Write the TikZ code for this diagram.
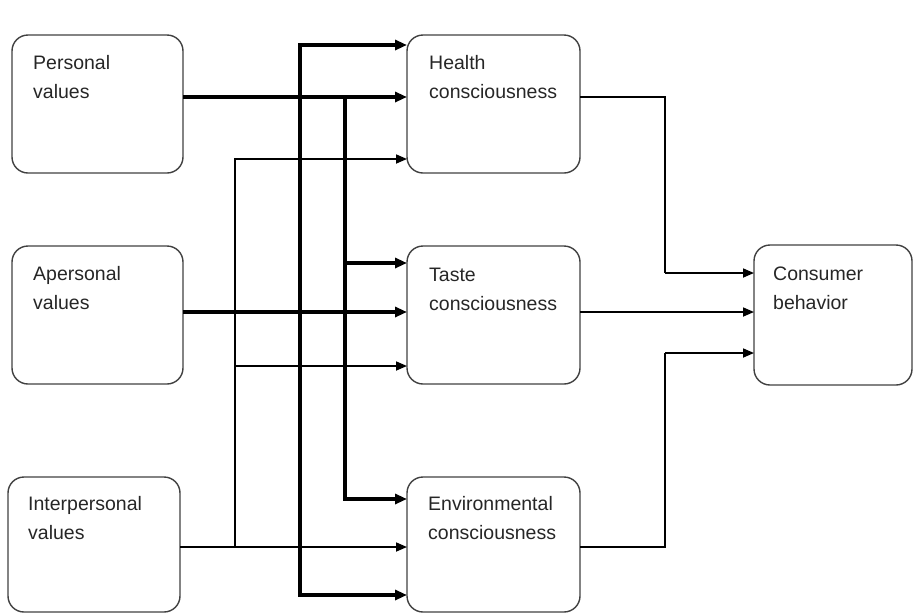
\documentclass[tikz,border=0pt]{standalone}
\usepackage{fontspec}
\setmainfont{Liberation Sans}
\usetikzlibrary{arrows.meta}
\begin{document}
\begin{tikzpicture}[x=1pt,y=-1pt,
  box/.style={draw=black!75, line width=1.4pt, rounded corners=16pt, anchor=north west, inner sep=0pt, outer sep=0pt},
  lbl/.style={anchor=north west, inner sep=0pt, align=left, text=black!85, font=\fontsize{19.5}{29}\selectfont},
  thickarr/.style={line width=3.2pt, -{Triangle[length=12pt,width=10pt]}},
  thinarr/.style={line width=1.7pt, -{Triangle[length=11pt,width=9pt]}},
  thinline/.style={line width=1.7pt}]
\useasboundingbox (0,0) rectangle (913,614);
% boxes
\node[box, minimum width=171pt, minimum height=138pt] (pv) at (12,35) {};
\node[box, minimum width=171pt, minimum height=138pt] (ap) at (12,246) {};
\node[box, minimum width=172pt, minimum height=135pt] (ip) at (8,477) {};
\node[box, minimum width=173pt, minimum height=138pt] (hc) at (407,35) {};
\node[box, minimum width=173pt, minimum height=138pt] (tc) at (407,246) {};
\node[box, minimum width=173pt, minimum height=135pt] (ec) at (407,477) {};
\node[box, minimum width=158pt, minimum height=140pt] (cb) at (754,245) {};
% labels
\node[lbl] (pvt) at ([xshift=21pt,yshift=-20pt]pv.north west) {Personal\\values};
\node[lbl] (apt) at ([xshift=21pt,yshift=-20pt]ap.north west) {Apersonal\\values};
\node[lbl] (ipt) at ([xshift=20pt,yshift=-19pt]ip.north west) {Interpersonal\\values};
\node[lbl] (hct) at ([xshift=22pt,yshift=-20pt]hc.north west) {Health\\consciousness};
\node[lbl] (tct) at ([xshift=22pt,yshift=-22pt]tc.north west) {Taste\\consciousness};
\node[lbl] (ect) at ([xshift=21pt,yshift=-19pt]ec.north west) {Environmental\\consciousness};
\node[lbl] (cbt) at ([xshift=19pt,yshift=-22pt]cb.north west) {Consumer\\behavior};
% junctions
\coordinate (ja) at (300,312);
\coordinate (jb) at (345,97);
\coordinate (jc) at (235,547);
\coordinate (jd) at (665,273);
\coordinate (je) at (665,353);
% personal values
\draw[thickarr] ([yshift=7pt]pv.east) -- ([yshift=7pt]pv.east -| hc.west);
\draw[thickarr] (jb) |- ([yshift=-22pt]ec.north west);
\draw[thickarr] (jb) |- ([yshift=-17pt]tc.north west);
% apersonal values
\draw[thickarr] ([yshift=3pt]ap.east) -- ([yshift=3pt]ap.east -| tc.west);
\draw[thickarr] (ja) |- ([yshift=-10pt]hc.north west);
\draw[thickarr] (ja) |- ([yshift=17pt]ec.south west);
% interpersonal values
\draw[thinarr] ([yshift=-2.5pt]ip.east) -- ([yshift=-2.5pt]ip.east -| ec.west);
\draw[thinarr] (jc) |- ([yshift=14pt]hc.south west);
\draw[thinarr] (jc) |- ([yshift=18pt]tc.south west);
% to consumer behavior
\draw[thinline] ([yshift=7pt]hc.east) -| (jd);
\draw[thinarr] (jd) -- (jd -| cb.west);
\draw[thinarr] ([yshift=3pt]tc.east) -- ([yshift=3pt]tc.east -| cb.west);
\draw[thinline] ([yshift=-2.5pt]ec.east) -| (je);
\draw[thinarr] (je) -- (je -| cb.west);
\end{tikzpicture}
\end{document}
